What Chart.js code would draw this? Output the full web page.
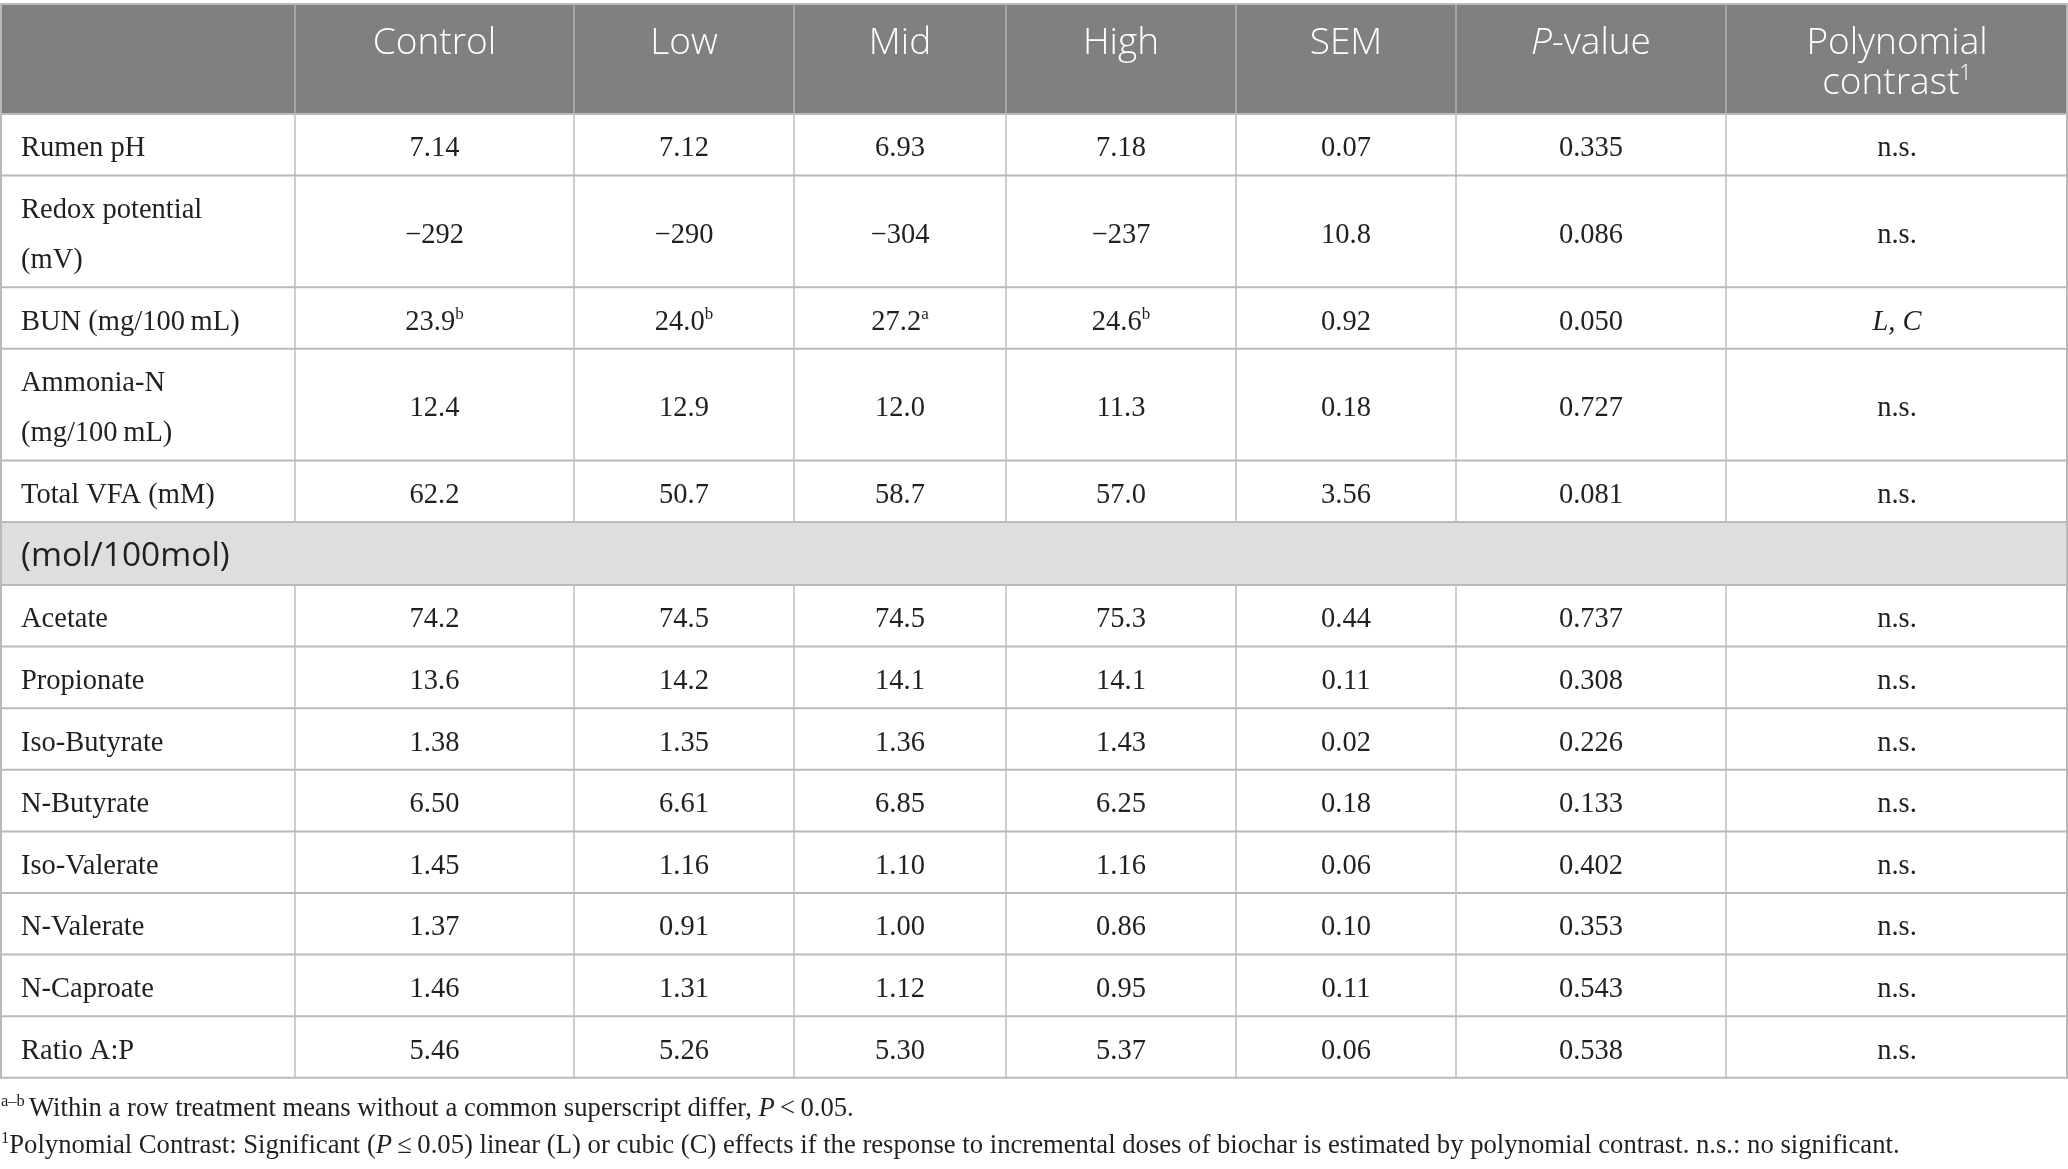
<!DOCTYPE html>
<html>
<head>
<meta charset="utf-8">
<title>Rumen fermentation table</title>
<script src="https://cdn.jsdelivr.net/npm/chart.js@4.4.1/dist/chart.umd.min.js"></script>
<style>
  html, body { margin: 0; padding: 0; background: #fff; }
  #wrap { width: 2068px; height: 1169px; position: relative; }
</style>
</head>
<body>
<div id="wrap"><canvas id="tableChart"></canvas></div>
<script>
// Table data
const columnHeads = ["Control", "Low", "Mid", "High", "SEM", "P-value", "Polynomial contrast"];
const rowLabels = [
    ["Rumen pH"], ["Redox potential", "(mV)"], ["BUN (mg/100\u2009mL)"], ["Ammonia-N", "(mg/100\u2009mL)"],
    ["Total VFA (mM)"], ["Acetate"], ["Propionate"], ["Iso-Butyrate"], ["N-Butyrate"],
    ["Iso-Valerate"], ["N-Valerate"], ["N-Caproate"], ["Ratio A:P"]
];
const sectionLabel = "(mol/100mol)";
const sectionBefore = 5; // band sits above "Acetate"

const control = ["7.14", "\u2212292", "23.9", "12.4", "62.2", "74.2", "13.6", "1.38", "6.50", "1.45", "1.37", "1.46", "5.46"];
const low     = ["7.12", "\u2212290", "24.0", "12.9", "50.7", "74.5", "14.2", "1.35", "6.61", "1.16", "0.91", "1.31", "5.26"];
const mid     = ["6.93", "\u2212304", "27.2", "12.0", "58.7", "74.5", "14.1", "1.36", "6.85", "1.10", "1.00", "1.12", "5.30"];
const high    = ["7.18", "\u2212237", "24.6", "11.3", "57.0", "75.3", "14.1", "1.43", "6.25", "1.16", "0.86", "0.95", "5.37"];
const sem     = ["0.07", "10.8", "0.92", "0.18", "3.56", "0.44", "0.11", "0.02", "0.18", "0.06", "0.10", "0.11", "0.06"];
const pValue  = ["0.335", "0.086", "0.050", "0.727", "0.081", "0.737", "0.308", "0.226", "0.133", "0.402", "0.353", "0.543", "0.538"];
const contrast = ["n.s.", "n.s.", "L, C", "n.s.", "n.s.", "n.s.", "n.s.", "n.s.", "n.s.", "n.s.", "n.s.", "n.s.", "n.s."];
const letterRow = 2;                        // BUN row carries superscripts
const letters = ["b", "b", "a", "b"];       // Control, Low, Mid, High

const footnoteA = "Within a row treatment means without a common superscript differ, ";
const footnoteB = "Polynomial Contrast: Significant (";
const footnoteC = "\u2009\u2264\u20090.05) linear (L) or cubic (C) effects if the response to incremental doses of biochar is estimated by polynomial contrast. n.s.: no significant.";

// Layout (in axis units, 1 unit = 1 px of the page)
const colEdges = [0, 295, 574, 794, 1006, 1236, 1456, 1726, 2068];
const tableTop = 4, headH = 110, rowH = 61.6, lineStep = 50, sectionH = 63;

const SERIF = '"Liberation Serif", "Times New Roman", serif';
const SANS = '"Open Sans", "Noto Sans", sans-serif';
const ink = "#231f20";

// rows with their vertical extents
const bodyRows = [];
let yCursor = tableTop + headH;
rowLabels.forEach((lbl, i) => {
    if (i === sectionBefore) {
        bodyRows.push({ section: true, top: yCursor, bottom: yCursor + sectionH });
        yCursor += sectionH;
    }
    const h = rowH + (lbl.length - 1) * lineStep;
    bodyRows.push({ index: i, top: yCursor, bottom: yCursor + h });
    yCursor += h;
});
const tableBottom = yCursor;

function drawRuns(ctx, runs, x, y, align) {
    let total = 0;
    runs.forEach(r => { ctx.font = r.font; r.w = ctx.measureText(r.text).width; total += r.w; });
    let cx = align === "center" ? x - total / 2 : x;
    runs.forEach(r => {
        ctx.font = r.font;
        ctx.fillText(r.text, cx, y + (r.dy || 0));
        cx += r.w;
    });
}

const tablePlugin = {
    id: "tableDraw",
    beforeDraw(chart) {
        const { ctx, scales: { x, y } } = chart;
        const X = v => x.getPixelForValue(v);
        const Y = v => y.getPixelForValue(v);
        const left = X(colEdges[0]), right = X(colEdges[colEdges.length - 1]);
        ctx.save();
        ctx.fillStyle = "#ffffff";
        ctx.fillRect(0, 0, chart.width, chart.height);

        // header band
        ctx.fillStyle = "#7f807f";
        ctx.fillRect(left, Y(tableTop), right - left, Y(tableTop + headH) - Y(tableTop));

        // section band
        bodyRows.filter(r => r.section).forEach(r => {
            ctx.fillStyle = "#dfdedf";
            ctx.fillRect(left, Y(r.top), right - left, Y(r.bottom) - Y(r.top));
        });

        // vertical rules
        ctx.lineWidth = 2;
        colEdges.forEach((c, k) => {
            const px = Math.min(Math.max(X(c), 1), chart.width - 1);
            const outer = k === 0 || k === colEdges.length - 1;
            ctx.strokeStyle = outer ? "#b9b9b9" : "#a6a6a6";
            ctx.beginPath();
            ctx.moveTo(px, Y(tableTop));
            ctx.lineTo(px, Y(tableTop + headH));
            ctx.stroke();
            ctx.strokeStyle = outer ? "#b9b9b9" : "#cdcdcd";
            bodyRows.forEach(r => {
                if (r.section && !outer) return;
                ctx.beginPath();
                ctx.moveTo(px, Y(r.top));
                ctx.lineTo(px, Y(r.bottom));
                ctx.stroke();
            });
        });

        // horizontal rules
        const hLines = [tableTop, tableTop + headH].concat(bodyRows.map(r => r.bottom));
        hLines.forEach(v => {
            ctx.strokeStyle = "#bababa";
            ctx.beginPath();
            ctx.moveTo(left, Y(v));
            ctx.lineTo(right, Y(v));
            ctx.stroke();
        });
        ctx.restore();
    },
    afterDraw(chart) {
        const { ctx, scales: { x, y } } = chart;
        const X = v => x.getPixelForValue(v);
        const Y = v => y.getPixelForValue(v);
        const colMid = k => (X(colEdges[k]) + X(colEdges[k + 1])) / 2;
        ctx.save();
        ctx.textBaseline = "alphabetic";
        ctx.textAlign = "left";

        // header
        ctx.fillStyle = "#ffffff";
        const hf = "300 37px " + SANS, hfi = "italic 300 37px " + SANS, hsup = "300 22px " + SANS;
        const base1 = Y(tableTop + 50);
        columnHeads.forEach((h, k) => {
            const cx = colMid(k + 1);
            if (h === "P-value") {
                drawRuns(ctx, [{ text: "P", font: hfi }, { text: "-value", font: hf }], cx, base1, "center");
            } else if (h === "Polynomial contrast") {
                drawRuns(ctx, [{ text: "Polynomial", font: hf }], cx, base1, "center");
                drawRuns(ctx, [{ text: "contrast", font: hf }, { text: "1", font: hsup, dy: -14 }], cx, Y(tableTop + 90), "center");
            } else {
                drawRuns(ctx, [{ text: h, font: hf }], cx, base1, "center");
            }
        });

        // body
        const bf = "28.5px " + SERIF, bfi = "italic 28.5px " + SERIF, bsup = "17px " + SERIF;
        const series = [control, low, mid, high, sem, pValue, contrast];
        bodyRows.forEach(r => {
            const mid = (r.top + r.bottom) / 2;
            if (r.section) {
                ctx.fillStyle = ink;
                drawRuns(ctx, [{ text: sectionLabel, font: "33.5px " + SANS }], X(21), Y(mid + 12.5), "left");
                return;
            }
            const i = r.index;
            const lines = rowLabels[i];
            ctx.fillStyle = ink;
            lines.forEach((t, j) => {
                const off = (j - (lines.length - 1) / 2) * lineStep;
                drawRuns(ctx, [{ text: t, font: bf }], X(21), Y(mid + off + 11.5), "left");
            });
            series.forEach((s, k) => {
                const runs = [];
                if (k === 6 && s[i] !== "n.s.") runs.push({ text: s[i], font: bfi });
                else runs.push({ text: s[i], font: bf });
                if (i === letterRow && k < 4) runs.push({ text: letters[k], font: bsup, dy: -11 });
                drawRuns(ctx, runs, colMid(k + 1), Y(mid + 11.5), "center");
            });
        });

        // footnotes, sized so the long line spans its measured width
        let fs = 25;
        ctx.font = fs + "px " + SERIF;
        const probe = ctx.measureText("1" + footnoteB + "P" + footnoteC).width;
        fs = fs * 1903 / probe;
        const ff = fs + "px " + SERIF, ffi = "italic " + fs + "px " + SERIF, fsup = (fs * 0.62) + "px " + SERIF;
        ctx.fillStyle = ink;
        drawRuns(ctx, [
            { text: "a\u2013b ", font: fsup, dy: -fs * 0.38 },
            { text: footnoteA, font: ff },
            { text: "P", font: ffi },
            { text: "\u2009<\u20090.05.", font: ff }
        ], X(1), Y(tableBottom + 38), "left");
        drawRuns(ctx, [
            { text: "1", font: fsup, dy: -fs * 0.38 },
            { text: footnoteB, font: ff },
            { text: "P", font: ffi },
            { text: footnoteC, font: ff }
        ], X(1), Y(tableBottom + 75), "left");
        ctx.restore();
    }
};

const ctx = document.getElementById("tableChart").getContext("2d");
new Chart(ctx, {
    type: "scatter",
    data: { datasets: [] },
    options: {
        responsive: true,
        maintainAspectRatio: false,
        animation: false,
        events: [],
        layout: { padding: 0 },
        plugins: { legend: { display: false }, tooltip: { enabled: false } },
        scales: {
            x: { type: "linear", display: false, min: 0, max: 2068 },
            y: { type: "linear", display: false, reverse: true, min: 0, max: 1169 }
        }
    },
    plugins: [tablePlugin]
});
</script>
</body>
</html>
